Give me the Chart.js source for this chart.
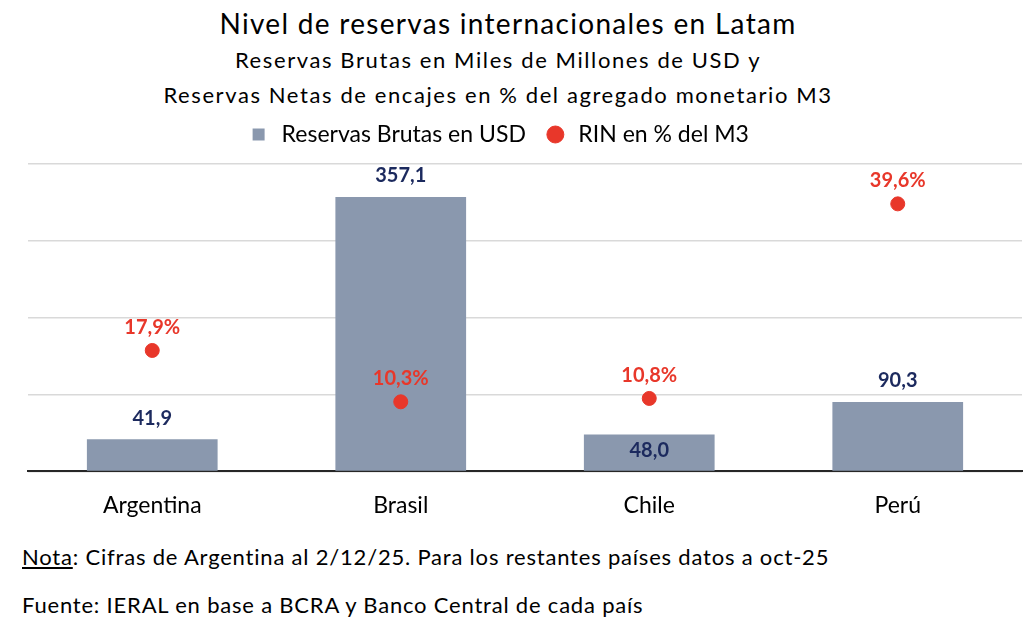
<!DOCTYPE html>
<html lang="es">
<head>
<meta charset="UTF-8">
<title>Nivel de reservas internacionales en Latam</title>
<script src="https://cdn.jsdelivr.net/npm/chart.js"></script>
<style>
  body { margin: 0; background: #fff; font-family: Lato, sans-serif; color: #000; }
  .page { position: relative; width: 1024px; height: 624px; overflow: hidden; }
  .t { position: absolute; left: 0; width: 1024px; text-align: center; white-space: nowrap; }
  .title { top: 6px; left: -4px; font-size: 28px; letter-spacing: 1.3px; }
  .sub1 { top: 46px; left: -14px; font-size: 22px; letter-spacing: 1.6px; }
  .sub2 { top: 81px; left: -14px; font-size: 22px; letter-spacing: 1.6px; }
  .chart-box { position: absolute; left: 0; top: 105px; width: 1030px; height: 434px; }
  .note { position: absolute; left: 22px; font-size: 22px; letter-spacing: 0.8px; white-space: nowrap; }
  .n1 { top: 543px; }
  .n2 { top: 591px; }
</style>
</head>
<body>
<div class="page">
  <div class="t title">Nivel de reservas internacionales en Latam</div>
  <div class="t sub1">Reservas Brutas en Miles de Millones de USD y</div>
  <div class="t sub2">Reservas Netas de encajes en % del agregado monetario M3</div>
  <div class="chart-box"><canvas id="chart"></canvas></div>
  <div class="note n1"><u>Nota</u>: Cifras de Argentina al 2/12/25. Para los restantes países datos a oct-25</div>
  <div class="note n2">Fuente: IERAL en base a BCRA y Banco Central de cada país</div>
</div>

<script>
// datos
const paises = ['Argentina', 'Brasil', 'Chile', 'Perú'];
const reservasBrutas = [41.9, 357.1, 48.0, 90.3];   // miles de millones de USD
const rinM3 = [17.9, 10.3, 10.8, 39.6];            // % del M3

const colorBarra = '#8a98ae';
const colorPunto = '#e8372a';
const colorEtiqueta = '#1c2a5e';

function coma(v) {
  return v.toFixed(1).replace('.', ',');
}

// etiquetas de valores (la de Chile va dentro de la barra, como en el original)
const etiquetas = {
  id: 'etiquetas',
  afterDatasetsDraw(chart) {
    const ctx = chart.ctx;
    ctx.save();
    ctx.font = 'bold 20px Lato';
    ctx.textAlign = 'center';
    ctx.textBaseline = 'middle';

    chart.getDatasetMeta(0).data.forEach((bar, i) => {
      ctx.fillStyle = colorEtiqueta;
      const dentro = paises[i] === 'Chile';
      ctx.fillText(coma(reservasBrutas[i]), bar.x, dentro ? bar.y + 16 : bar.y - 21);
    });

    chart.getDatasetMeta(1).data.forEach((pt, i) => {
      ctx.fillStyle = colorPunto;
      ctx.fillText(coma(rinM3[i]) + '%', pt.x, pt.y - 23);
    });
    ctx.restore();
  }
};

// un poco más de aire bajo la leyenda y leyenda algo corrida a la izquierda
const ajusteLeyenda = {
  id: 'ajusteLeyenda',
  beforeInit(chart) {
    const fitOriginal = chart.legend.fit;
    chart.legend.fit = function () {
      fitOriginal.bind(chart.legend)();
      this.height += 8;
    };
  },
  afterLayout(chart) {
    chart.legend.left -= 62;
  }
};

const ctx = document.getElementById('chart').getContext('2d');
Chart.defaults.font.family = 'Lato';
Chart.defaults.color = '#000';

new Chart(ctx, {
  data: {
    labels: paises,
    datasets: [
      {
        type: 'bar',
        label: 'Reservas Brutas en USD',
        data: reservasBrutas,
        backgroundColor: colorBarra,
        yAxisID: 'y',
        categoryPercentage: 1,
        barPercentage: 0.526,
        pointStyle: 'rect',
        order: 2
      },
      {
        type: 'line',
        label: 'RIN en % del M3',
        data: rinM3,
        yAxisID: 'y1',
        showLine: false,
        pointRadius: 7,
        pointHoverRadius: 7,
        pointBackgroundColor: colorPunto,
        pointBorderColor: colorPunto,
        backgroundColor: colorPunto,
        borderColor: colorPunto,
        pointStyle: 'circle',
        order: 1
      }
    ]
  },
  options: {
    responsive: true,
    maintainAspectRatio: false,
    animation: false,
    layout: { padding: { left: 28, right: 0, top: 0, bottom: 0 } },
    plugins: {
      tooltip: { enabled: false },
      legend: {
        position: 'top',
        labels: {
          usePointStyle: true,
          boxHeight: 12,
          padding: 18,
          font: { size: 23 },
          color: '#000',
          sort: (a, b) => a.datasetIndex - b.datasetIndex
        }
      }
    },
    scales: {
      x: {
        grid: { display: false, drawTicks: false },
        border: { display: true, color: '#262626', width: 2 },
        ticks: { padding: 20, font: { size: 23 }, color: '#000' }
      },
      y: {
        position: 'left',
        min: 0,
        max: 400,
        ticks: { display: false, stepSize: 100 },
        grid: { color: '#d9d9d9', lineWidth: 1.5, drawTicks: false },
        border: { display: false }
      },
      y1: {
        position: 'right',
        display: false,
        min: 0,
        max: 45.5
      }
    }
  },
  plugins: [etiquetas, ajusteLeyenda]
});
</script>
</body>
</html>
